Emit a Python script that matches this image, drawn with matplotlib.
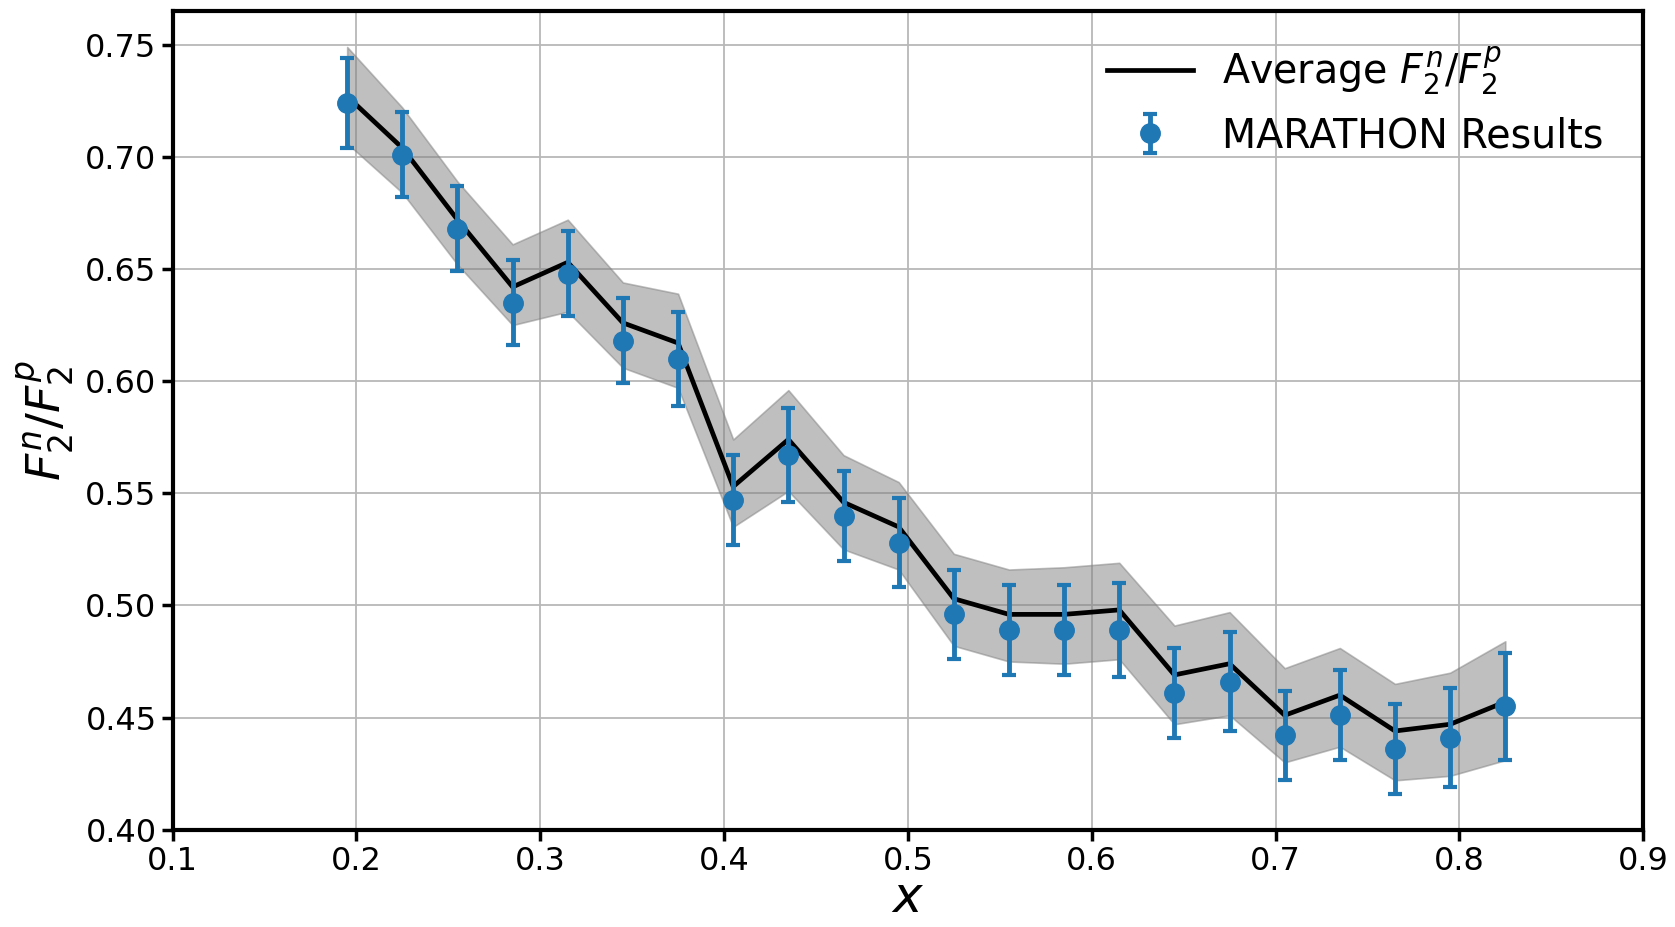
import matplotlib
matplotlib.use("Agg")
import matplotlib.pyplot as plt
import numpy as np

# x bins
x_vals = [0.195, 0.225, 0.255, 0.285, 0.315, 0.345, 0.375, 0.405, 0.435, 0.465, 0.495,
          0.525, 0.555, 0.585, 0.615, 0.645, 0.675, 0.705, 0.735, 0.765, 0.795, 0.825]

# MARATHON points and errors
marathon = [0.724, 0.701, 0.668, 0.635, 0.648, 0.618, 0.610, 0.547, 0.567, 0.540, 0.528,
            0.496, 0.489, 0.489, 0.489, 0.461, 0.466, 0.442, 0.451, 0.436, 0.441, 0.455]
marathon_err = [0.020, 0.019, 0.019, 0.019, 0.019, 0.019, 0.021, 0.020, 0.021, 0.020, 0.020,
                0.020, 0.020, 0.020, 0.021, 0.020, 0.022, 0.020, 0.020, 0.020, 0.022, 0.024]

# average ratio and its band
average = [0.727, 0.704, 0.672, 0.642, 0.653, 0.626, 0.617, 0.553, 0.574, 0.546, 0.535,
           0.503, 0.496, 0.496, 0.498, 0.469, 0.474, 0.451, 0.460, 0.444, 0.447, 0.457]
band_hi = [0.749, 0.722, 0.689, 0.661, 0.672, 0.644, 0.639, 0.574, 0.596, 0.567, 0.555,
           0.523, 0.516, 0.517, 0.519, 0.491, 0.497, 0.472, 0.481, 0.465, 0.470, 0.484]
band_lo = [0.706, 0.684, 0.652, 0.625, 0.631, 0.606, 0.597, 0.535, 0.551, 0.525, 0.516,
           0.482, 0.475, 0.474, 0.476, 0.447, 0.451, 0.430, 0.437, 0.422, 0.424, 0.431]

fig = plt.figure(figsize=(16.75, 9.27), dpi=100)
ax = fig.add_axes([0.103, 0.105, 0.878, 0.883])

ax.fill_between(x_vals, band_lo, band_hi, color="gray", alpha=0.5,
                edgecolor="#808080", linewidth=1.2, zorder=2)
ax.plot(x_vals, average, color="black", linewidth=3.4,
        label=r"Average $F_2^n/F_2^p$", zorder=3)
ax.errorbar(x_vals, marathon, yerr=marathon_err, fmt="o", color="#1f77b4",
            markersize=14, elinewidth=3.5, capsize=5, capthick=3,
            label="MARATHON Results", zorder=4)

ax.set_xlim(0.1, 0.9)
ax.set_ylim(0.40, 0.765)
ax.set_xticks(np.arange(0.1, 0.91, 0.1))
ax.set_xticklabels([f"{v:.1f}" for v in np.arange(0.1, 0.91, 0.1)])
ax.set_yticks(np.arange(0.40, 0.751, 0.05))
ax.set_yticklabels([f"{v:.2f}" for v in np.arange(0.40, 0.751, 0.05)])

ax.grid(True, color="#b8b8b8", linewidth=1.3, zorder=0)
ax.set_axisbelow(True)

for s in ax.spines.values():
    s.set_linewidth(3)
ax.tick_params(axis="both", labelsize=23, width=2.5, length=8)

ax.set_xlabel(r"$x$", fontsize=36, labelpad=-2)
ax.set_ylabel(r"$F_2^n/F_2^p$", fontsize=34, labelpad=6)

ax.legend(loc="upper right", bbox_to_anchor=(1.0, 1.007), fontsize=28.5,
          frameon=False, handlelength=2.17, borderaxespad=0.6,
          handletextpad=0.75, labelspacing=0.48)

fig.savefig("out.png", dpi=100)
